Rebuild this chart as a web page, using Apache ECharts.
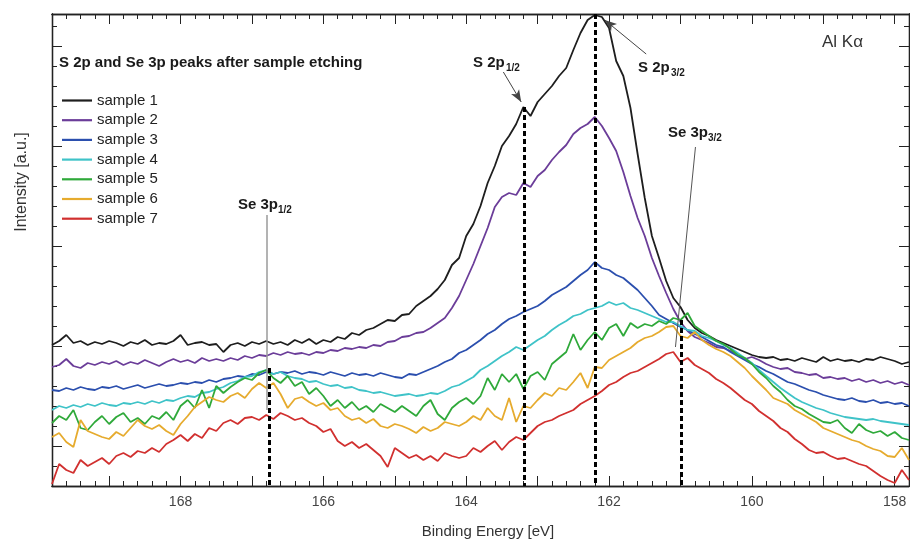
<!DOCTYPE html>
<html>
<head>
<meta charset="utf-8">
<script src="https://cdn.jsdelivr.net/npm/echarts@6/dist/echarts.min.js"></script>
<style>
html, body { margin: 0; padding: 0; background: #fff; }
#chart { width: 910px; height: 540px; }
</style>
</head>
<body>
<div id="chart"></div>
<script>
// Binding energy grid [eV], 0.1 eV steps
const energy = [
  169.8,169.7,169.6,169.5,169.4,169.3,169.2,169.1,169.0,168.9,
  168.8,168.7,168.6,168.5,168.4,168.3,168.2,168.1,168.0,167.9,
  167.8,167.7,167.6,167.5,167.4,167.3,167.2,167.1,167.0,166.9,
  166.8,166.7,166.6,166.5,166.4,166.3,166.2,166.1,166.0,165.9,
  165.8,165.7,165.6,165.5,165.4,165.3,165.2,165.1,165.0,164.9,
  164.8,164.7,164.6,164.5,164.4,164.3,164.2,164.1,164.0,163.9,
  163.8,163.7,163.6,163.5,163.4,163.3,163.2,163.1,163.0,162.9,
  162.8,162.7,162.6,162.5,162.4,162.3,162.2,162.1,162.0,161.9,
  161.8,161.7,161.6,161.5,161.4,161.3,161.2,161.1,161.0,160.9,
  160.8,160.7,160.6,160.5,160.4,160.3,160.2,160.1,160.0,159.9,
  159.8,159.7,159.6,159.5,159.4,159.3,159.2,159.1,159.0,158.9,
  158.8,158.7,158.6,158.5,158.4,158.3,158.2,158.1,158.0,157.9,
  157.8
];

// Intensities [a.u.], one list per sample (offset spectra)
const sample1 = [
  141,145,151,143,145,141,144,142,145,143,
  140,144,142,146,141,143,142,145,151,141,
  143,144,141,142,134,141,143,140,144,142,
  145,142,144,141,146,143,147,142,146,144,
  149,147,153,151,156,158,162,166,165,171,
  172,180,185,190,197,206,221,228,250,262,
  280,303,320,340,350,362,379,370,384,392,
  400,410,418,436,453,466,471,469,458,425,
  410,378,332,288,250,228,205,188,179,166,
  158,153,150,146,143,140,137,134,131,129,
  128,129,126,127,125,128,126,124,129,125,
  127,125,126,124,127,126,129,127,125,122,
  124
];
const sample2 = [
  119,121,127,120,118,123,121,124,122,125,
  121,124,122,126,123,120,124,127,124,126,
  123,128,125,127,125,128,126,130,128,131,
  130,133,131,134,132,133,131,134,133,136,
  135,138,137,139,138,141,140,144,145,149,
  150,153,154,158,163,168,178,190,206,222,
  240,258,279,289,293,291,303,299,310,316,
  326,334,341,352,358,362,369,360,348,335,
  314,290,268,250,228,210,193,177,164,155,
  149,146,143,139,138,135,131,127,129,126,
  122,119,117,118,114,113,111,112,108,109,
  107,108,105,107,104,106,103,105,102,104,
  101
];
const sample3 = [
  96,95,98,96,99,97,96,99,98,100,
  97,99,101,98,100,102,100,101,103,102,
  104,103,106,104,107,108,110,109,112,111,
  114,112,114,113,115,112,114,113,111,114,
  112,110,113,111,112,110,113,111,109,108,
  112,111,114,117,120,124,127,133,136,141,
  146,152,156,162,167,170,174,177,180,185,
  191,195,199,205,211,216,224,218,216,211,
  208,202,196,188,180,171,167,163,159,156,
  152,149,145,141,139,134,130,126,122,119,
  115,112,108,104,102,99,96,94,91,89,
  87,86,88,85,84,86,83,84,82,83,
  80
];
const sample4 = [
  76,80,78,81,79,82,80,83,81,80,
  83,82,84,82,85,83,86,85,88,90,
  89,93,94,97,99,103,105,109,110,114,
  116,112,114,110,108,107,104,105,102,100,
  101,98,99,96,95,93,94,92,90,91,
  92,90,91,93,92,95,99,101,105,109,
  116,120,125,130,134,139,136,141,146,150,
  156,161,165,170,172,176,178,180,184,181,
  183,178,176,173,170,167,164,164,160,156,
  155,150,148,145,141,138,133,128,123,116,
  110,104,98,93,88,84,81,78,76,73,
  71,69,68,67,66,67,65,64,63,62,
  61
];
const sample5 = [
  63,70,66,76,58,56,64,70,62,69,
  73,64,68,62,70,67,74,66,80,86,
  78,96,78,100,93,99,104,108,106,113,
  116,108,103,110,100,104,92,98,90,80,
  86,78,84,76,80,74,82,78,74,80,
  75,70,80,86,72,66,78,84,88,82,
  90,108,96,112,104,112,97,110,114,106,
  122,128,134,152,136,146,154,146,158,162,
  150,163,158,162,160,165,162,168,166,173,
  160,155,150,145,142,137,131,128,122,114,
  108,100,94,86,80,77,72,68,64,63,
  66,58,53,62,56,53,55,50,54,48,
  46
];
const sample6 = [
  49,53,44,39,66,55,52,49,47,54,
  50,58,66,60,57,61,55,51,62,70,
  79,84,89,86,84,90,93,88,97,103,
  98,103,92,78,87,89,84,80,83,76,
  78,70,66,68,63,67,60,58,62,60,
  57,53,59,55,58,64,62,60,64,70,
  66,78,70,66,88,64,80,78,86,93,
  90,98,96,104,113,98,119,118,126,130,
  134,138,144,148,150,154,159,160,150,148,
  154,146,141,137,134,130,124,118,110,103,
  96,88,85,82,76,72,68,64,58,55,
  52,49,46,44,40,37,35,30,29,38,
  26
];
const sample7 = [
  2,22,16,13,26,20,24,28,22,30,
  33,29,35,33,38,34,42,46,51,45,
  52,48,58,55,63,66,62,68,69,66,
  71,67,73,70,66,68,63,60,54,57,
  45,40,44,38,42,36,30,19,38,33,
  28,31,26,30,25,33,30,28,30,38,
  34,40,45,36,44,49,46,53,60,64,
  66,70,73,76,82,86,90,95,101,104,
  109,113,115,119,123,127,132,134,124,128,
  121,117,113,107,103,98,92,86,82,75,
  70,65,58,54,47,42,36,33,34,30,
  27,28,25,22,20,15,10,6,3,16,
  6
];

const sampleNames = ['sample 1', 'sample 2', 'sample 3', 'sample 4', 'sample 5', 'sample 6', 'sample 7'];
const sampleValues = [sample1, sample2, sample3, sample4, sample5, sample6, sample7];
const sampleColors = ['#1e1e1e', '#6b3d99', '#2b4fae', '#3fc3c8', '#2fa93a', '#e6ab2e', '#d1302f'];

// Axis ticks
const xLabelValues = [158, 160, 162, 164, 166, 168];
const xMajorTicks = [158, 159, 160, 161, 162, 163, 164, 165, 166, 167, 168, 169];
const yMajorTicks = [40, 140, 240, 340, 440];

// Peak markers: [energy, top of dashed line]
const peakS2p32 = [162.2, 472];
const peakS2p12 = [163.19, 379];
const peakSe3p32 = [160.99, 166];
const peakSe3p12 = [166.76, 118];

const X_MIN = 157.8, X_MAX = 169.8, Y_MIN = 0, Y_MAX = 472;
const FONT = '"Liberation Sans", Arial, sans-serif';

const chart = echarts.init(document.getElementById('chart'), null, { renderer: 'canvas' });

function xAxisDef(position, tickCfg, labelCfg) {
  return {
    type: 'value', position: position, inverse: true, min: X_MIN, max: X_MAX,
    splitLine: { show: false },
    axisLine: { show: true, onZero: false, lineStyle: { color: '#222', width: 1.3 } },
    axisTick: tickCfg,
    axisLabel: labelCfg || { show: false }
  };
}
function yAxisDef(position, tickCfg) {
  return {
    type: 'value', position: position, min: Y_MIN, max: Y_MAX,
    splitLine: { show: false },
    axisLine: { show: true, onZero: false, lineStyle: { color: '#222', width: 1.3 } },
    axisTick: tickCfg,
    axisLabel: { show: false }
  };
}
const minorTickX = { show: true, inside: true, length: 5, lineStyle: { color: '#222', width: 1 } };
const majorTickX = { show: true, inside: true, length: 10, customValues: xMajorTicks, lineStyle: { color: '#222', width: 1 } };
const minorTickY = { show: true, inside: true, length: 5, lineStyle: { color: '#222', width: 1 } };
const majorTickY = { show: true, inside: true, length: 10, customValues: yMajorTicks, lineStyle: { color: '#222', width: 1 } };

const xAxes = [
  Object.assign(xAxisDef('bottom', minorTickX), { interval: 0.2 }),
  xAxisDef('bottom', majorTickX, {
    show: true, customValues: xLabelValues, margin: 9,
    color: '#444', fontSize: 14, fontFamily: FONT
  }),
  Object.assign(xAxisDef('top', minorTickX), { interval: 0.2 }),
  xAxisDef('top', majorTickX)
];
const yAxes = [
  Object.assign(yAxisDef('left', minorTickY), { interval: 20 }),
  yAxisDef('left', majorTickY),
  Object.assign(yAxisDef('right', minorTickY), { interval: 20 }),
  yAxisDef('right', majorTickY)
];

function vLine(peak, style) {
  return [
    { coord: [peak[0], peak[1]], symbol: 'none', lineStyle: style },
    { coord: [peak[0], Y_MIN], symbol: 'none' }
  ];
}
const dashStyle = { color: '#000', width: 3, type: [5, 3] };

const markLineData = [
  vLine(peakS2p32, dashStyle),
  vLine(peakS2p12, dashStyle),
  vLine(peakSe3p32, dashStyle),
  vLine(peakSe3p12, dashStyle),
  // leader line for Se 3p1/2
  [
    { coord: [166.8, 271], symbol: 'none', lineStyle: { color: '#9a9a9a', width: 1.5, type: 'solid' } },
    { coord: [166.8, 76], symbol: 'none' }
  ],
  // leader line for Se 3p3/2
  [
    { coord: [160.79, 339], symbol: 'none', lineStyle: { color: '#555', width: 1, type: 'solid' } },
    { coord: [161.07, 139], symbol: 'none' }
  ],
  // arrow for S 2p1/2
  [
    { coord: [163.48, 414], symbol: 'none', lineStyle: { color: '#444', width: 1, type: 'solid' } },
    { coord: [163.23, 384], symbol: 'arrow', symbolSize: [7, 12] }
  ],
  // arrow for S 2p3/2
  [
    { coord: [161.48, 432], symbol: 'none', lineStyle: { color: '#444', width: 1, type: 'solid' } },
    { coord: [162.06, 466], symbol: 'arrow', symbolSize: [7, 12] }
  ]
];

const series = sampleNames.map(function (name, k) {
  const s = {
    name: name,
    type: 'line',
    xAxisIndex: 0,
    yAxisIndex: 0,
    symbol: 'none',
    smooth: false,
    clip: true,
    color: sampleColors[k],
    lineStyle: { color: sampleColors[k], width: 1.8 },
    data: energy.map(function (e, i) { return [e, sampleValues[k][i]]; })
  };
  if (k === 0) {
    s.markLine = {
      silent: true,
      animation: false,
      label: { show: false },
      emphasis: { disabled: true },
      data: markLineData
    };
  }
  return s;
});

function txt(text, x, y, font, fill, extra) {
  return {
    type: 'text', silent: true,
    style: Object.assign({ text: text, x: x, y: y, font: font, fill: fill, textVerticalAlign: 'middle' }, extra || {})
  };
}
const bold15 = 'bold 15px ' + FONT;
const bold10 = 'bold 10px ' + FONT;

chart.setOption({
  animation: false,
  backgroundColor: '#fff',
  grid: { left: 52, right: 1, top: 14, bottom: 54, containLabel: false },
  xAxis: xAxes,
  yAxis: yAxes,
  legend: {
    show: true,
    orient: 'vertical',
    left: 57,
    top: 88,
    itemWidth: 30,
    itemHeight: 14,
    itemGap: 4.7,
    icon: 'path://M0,6 L30,6 L30,8.2 L0,8.2 Z',
    selectedMode: false,
    textStyle: { color: '#222', fontSize: 15, fontFamily: FONT },
    data: sampleNames
  },
  series: series,
  graphic: [
    txt('S 2p and Se 3p peaks after sample etching', 59, 63, bold15, '#1a1a1a'),
    txt('Al K\u03b1', 822, 42, '17px ' + FONT, '#333'),
    txt('S 2p', 473, 63, bold15, '#1a1a1a'),
    txt('1/2', 506, 68, bold10, '#1a1a1a'),
    txt('S 2p', 638, 68, bold15, '#1a1a1a'),
    txt('3/2', 671, 73, bold10, '#1a1a1a'),
    txt('Se 3p', 668, 133, bold15, '#1a1a1a'),
    txt('3/2', 708, 138, bold10, '#1a1a1a'),
    txt('Se 3p', 238, 205, bold15, '#1a1a1a'),
    txt('1/2', 278, 210, bold10, '#1a1a1a'),
    txt('Binding Energy [eV]', 488, 532, '15px ' + FONT, '#333', { textAlign: 'center' }),
    {
      type: 'text', silent: true, x: 22, y: 182, rotation: Math.PI / 2,
      style: { text: 'Intensity [a.u.]', x: 0, y: 0, font: '16px ' + FONT, fill: '#333', textAlign: 'center', textVerticalAlign: 'middle' }
    }
  ]
});
</script>
</body>
</html>
